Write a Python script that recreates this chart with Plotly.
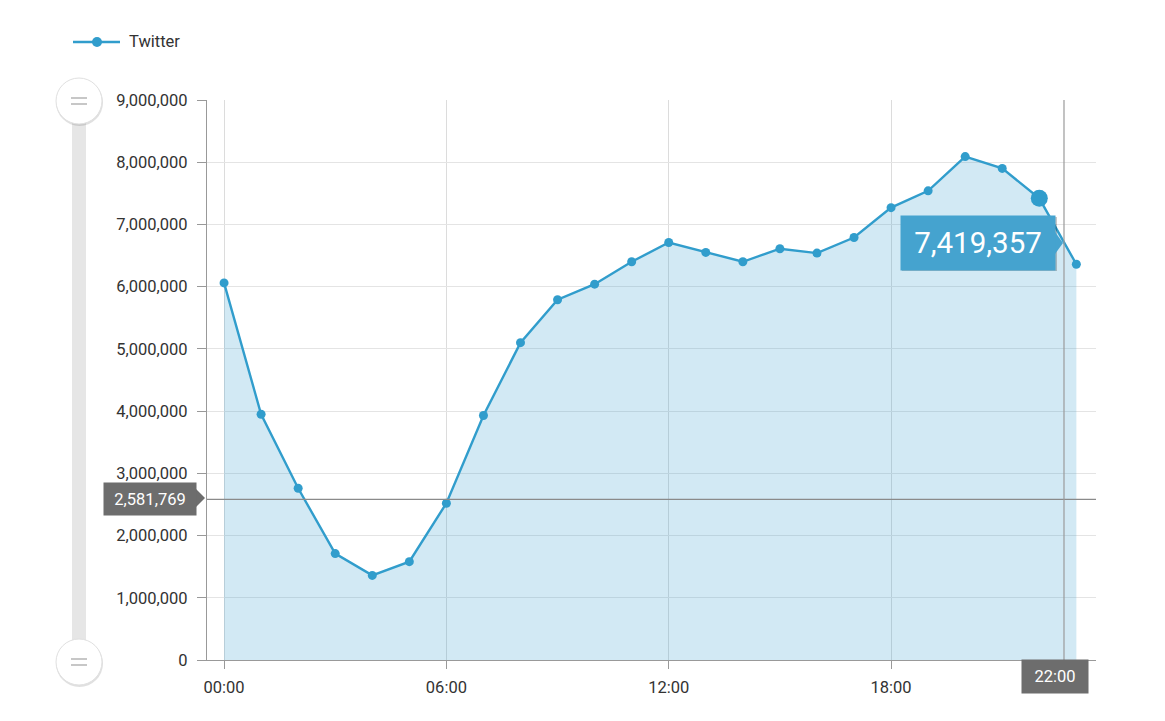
import plotly.graph_objects as go

hour_labels = ["%02d:00" % h for h in range(24)]
twitter_users = [
    6060000, 3950000, 2760000, 1710000, 1360000, 1580000,
    2520000, 3930000, 5100000, 5790000, 6040000, 6400000,
    6710000, 6550000, 6400000, 6610000, 6540000, 6790000,
    7270000, 7540000, 8090000, 7900000, 7419357, 6360000,
]
series_name = "Twitter"
axis_ticks = ["00:00", "06:00", "12:00", "18:00"]
y_ticks = list(range(0, 9000001, 1000000))

selected = 22
cursor_value = 2581769
cursor_label = "22:00"

LINE = "#319dcc"
GREY_LABEL = "#6d6d6d"

# the page body has an 8px margin; figure is sized to fit inside it
OFF = 8
W, H = 1165 - 2 * OFF, 721 - 2 * OFF
# plot area in page pixels (used only for the decorations around it)
L, R, T, B = 207, 1096, 100, 660


def px(x):
    return (x - L) / (R - L)


def py(y):
    return (B - y) / (B - T)


fig = go.Figure()
fig.add_trace(go.Scatter(
    x=hour_labels, y=twitter_users, name=series_name,
    mode="lines+markers", fill="tozeroy",
    fillcolor="rgba(51,153,204,0.22)",
    line=dict(color=LINE, width=2.4),
    marker=dict(color=LINE, size=9),
    showlegend=False,
))
fig.add_trace(go.Scatter(
    x=[hour_labels[selected]], y=[twitter_users[selected]],
    mode="markers", showlegend=False,
    marker=dict(color=LINE, size=17),
))

shapes = []
# legend drawn by hand (longer sample line than plotly's)
shapes.append(dict(type="line", xref="paper", yref="paper",
                   x0=px(73), x1=px(120), y0=py(42), y1=py(42),
                   line=dict(color=LINE, width=2.5)))
shapes.append(dict(type="circle", xref="paper", yref="paper",
                   x0=px(92), x1=px(102), y0=py(47), y1=py(37),
                   fillcolor=LINE, line=dict(width=0)))

# slider track and handles on the left
shapes.append(dict(type="rect", xref="paper", yref="paper",
                   x0=px(72), x1=px(86), y0=py(660), y1=py(100),
                   fillcolor="#e6e6e6", line=dict(width=0), layer="below"))
for cy in (101, 662):
    shapes.append(dict(type="circle", xref="paper", yref="paper",
                       x0=px(56), x1=px(103), y0=py(cy - 22), y1=py(cy + 25),
                       fillcolor="rgba(0,0,0,0.12)", line=dict(width=0)))
    shapes.append(dict(type="circle", xref="paper", yref="paper",
                       x0=px(56), x1=px(102), y0=py(cy - 23), y1=py(cy + 23),
                       fillcolor="white", line=dict(color="#e0e0e0", width=1)))
    for dy in (-3, 3):
        shapes.append(dict(type="line", xref="paper", yref="paper",
                           x0=px(71), x1=px(87), y0=py(cy + dy), y1=py(cy + dy),
                           line=dict(color="#b5b5b5", width=1.5)))

# crosshair
shapes.append(dict(type="line", xref="paper", yref="y",
                   x0=0, x1=1, y0=cursor_value, y1=cursor_value,
                   line=dict(color="#8a8a8a", width=1.2)))
shapes.append(dict(type="line", xref="paper", yref="paper",
                   x0=px(1064), x1=px(1064), y0=0, y1=1,
                   line=dict(color="#9a9a9a", width=1.2)))

# tooltip shadow and notch
shapes.append(dict(type="rect", xref="paper", yref="paper",
                   x0=px(902), x1=px(1057), y0=py(271), y1=py(217),
                   fillcolor="rgba(0,0,0,0.22)", line=dict(width=0)))
shapes.append(dict(type="path", xref="paper", yref="paper",
                   path="M %f %f L %f %f L %f %f Z" % (
                       px(1055), py(232), px(1063), py(243), px(1055), py(254)),
                   fillcolor="#45a3cf", line=dict(color="#45a3cf", width=0)))
# y-label notch
shapes.append(dict(type="path", xref="paper", yref="paper",
                   path="M %f %f L %f %f L %f %f Z" % (
                       px(196), py(489), px(205), py(498), px(196), py(507)),
                   fillcolor=GREY_LABEL, line=dict(width=0)))

annotations = [
    dict(x=px(127), y=py(42), xref="paper", yref="paper",
         xanchor="left", yanchor="middle", text=series_name, showarrow=False,
         font=dict(size=16.5, color="#333333")),
    dict(x=hour_labels[selected], y=twitter_users[selected], xref="x", yref="y",
         text=f"{twitter_users[selected]:,}", showarrow=False,
         xanchor="center", yanchor="middle",
         xshift=-61, yshift=-45, width=146, height=46, borderpad=4,
         bgcolor="#45a3cf", font=dict(color="white", size=29.5)),
    dict(x=px(150), y=cursor_value, xref="paper", yref="y",
         xanchor="center", yanchor="middle",
         text=f"{cursor_value:,}", showarrow=False,
         width=84, height=24, borderpad=4,
         bgcolor=GREY_LABEL, font=dict(color="white", size=16.5)),
    dict(x=px(1055), y=py(676.5), xref="paper", yref="paper",
         xanchor="center", yanchor="middle",
         text=cursor_label, showarrow=False,
         width=58, height=25, borderpad=4,
         bgcolor=GREY_LABEL, font=dict(color="white", size=16.5)),
]

fig.update_layout(
    width=W, height=H,
    margin=dict(l=L - OFF, r=W + OFF - R, t=T - OFF, b=H + OFF - B),
    paper_bgcolor="white", plot_bgcolor="white",
    font=dict(family="Roboto", size=16.5, color="#333333"),
    shapes=shapes, annotations=annotations,
    hovermode=False,
)
fig.update_xaxes(
    type="category", range=[-0.46, 23.53],
    tickvals=axis_ticks, ticktext=axis_ticks,
    showgrid=True, gridcolor="#dcdcdc", gridwidth=1,
    showline=True, linecolor="#999999", linewidth=1.2,
    ticks="outside", ticklen=8, tickcolor="#999999",
    zeroline=False, ticklabelstandoff=4,
)
fig.update_yaxes(
    range=[0, 9000000], tickvals=y_ticks, tickformat=",d",
    showgrid=True, gridcolor="#e4e4e4", gridwidth=1,
    showline=True, linecolor="#999999", linewidth=1.2,
    ticks="outside", ticklen=9, tickcolor="#999999",
    zeroline=False, ticklabelstandoff=6,
)

fig.write_html("out.html")
